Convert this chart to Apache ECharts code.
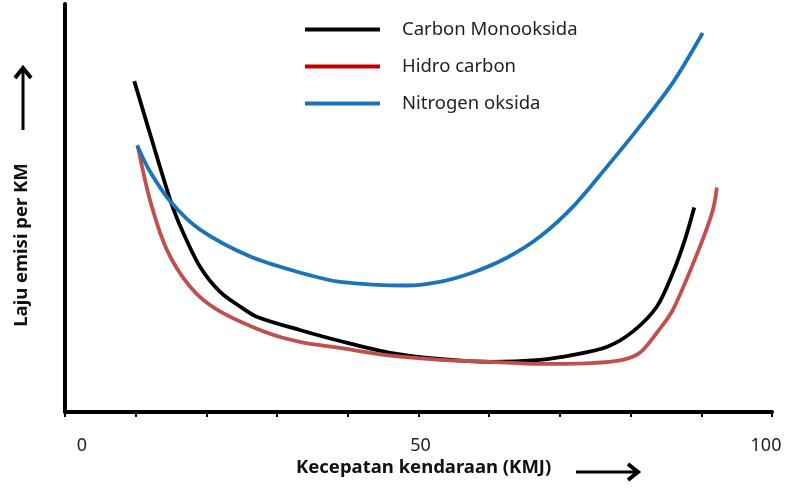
<!DOCTYPE html>
<html>
<head>
<meta charset="utf-8">
<script src="https://cdn.jsdelivr.net/npm/echarts@6/dist/echarts.min.js"></script>
<style>html,body{margin:0;padding:0;background:#fff}#c{width:800px;height:493px}</style>
</head>
<body>
<div id="c"></div>
<script>
// Data (x: speed km/h, y: relative emission rate 0-100)
var seriesNames = ['Carbon Monooksida', 'Hidro carbon', 'Nitrogen oksida'];
var xTickLabels = ['0', '50', '100'];
var coX = [9.8, 12.3, 15.0, 16.7, 19.1, 21.9, 24.8, 27.2, 33.2, 38.9, 46.0, 53.0, 60.1, 67.2, 71.9, 76.7, 80.3, 83.7, 86.0, 87.7, 89.0];
var coY = [81.1, 66.6, 51.4, 44.0, 35.6, 29.5, 25.8, 23.3, 20.1, 17.4, 14.5, 13.0, 12.3, 12.8, 14.0, 16.0, 19.7, 25.8, 34.2, 42.3, 50.1];
var hcX = [10.3, 12.0, 14.4, 17.7, 21.5, 28.6, 33.2, 38.9, 46.0, 53.0, 60.1, 67.2, 74.3, 78.9, 81.3, 83.7, 86.0, 89.8, 91.65, 92.2];
var hcY = [65.1, 52.1, 39.8, 30.7, 25.1, 19.4, 17.2, 15.7, 13.8, 12.8, 12.3, 11.8, 12.0, 12.8, 14.5, 19.4, 25.1, 40.5, 49.6, 55.0];
var noX = [10.2, 12.0, 15.0, 19.1, 26.2, 33.2, 38.9, 48.4, 53.0, 57.7, 62.5, 67.2, 71.9, 76.7, 81.3, 86.0, 90.2];
var noY = [65.4, 59.0, 51.4, 44.7, 38.1, 34.2, 31.9, 31.0, 31.9, 34.2, 37.8, 43.0, 50.4, 60.2, 70.0, 80.8, 92.9];

function pairs(xs, ys) { return xs.map(function (x, i) { return [x, ys[i]]; }); }

var lineColors = ['#000000', '#c0504d', '#1a74bb'];
var legendColors = ['#000000', '#c00000', '#1a74bb'];
var font = 'Noto Sans';

var chart = echarts.init(document.getElementById('c'), null, {renderer: 'canvas'});
chart.setOption({
  animation: false,
  backgroundColor: '#ffffff',
  grid: {left: 65, right: 28, top: 4, bottom: 81, containLabel: false},
  legend: {
    orient: 'vertical',
    left: 300, top: 14,
    icon: 'rect',
    itemWidth: 75, itemHeight: 4,
    itemGap: 16,
    textStyle: {fontFamily: font, fontSize: 18.5, color: '#222', padding: [0, 0, 0, 17], lineHeight: 21},
    data: seriesNames.map(function (n, i) { return {name: n, itemStyle: {color: legendColors[i]}}; })
  },
  xAxis: {
    type: 'value', min: 0, max: 100, interval: 10,
    axisLine: {show: true, lineStyle: {color: '#000', width: 4}},
    axisTick: {show: true, length: 5, lineStyle: {color: '#000', width: 2}},
    splitLine: {show: false},
    axisLabel: {
      margin: 25,
      fontFamily: font, fontSize: 18, color: '#222',
      formatter: function (v) {
        if (v === 0) return '{a|' + xTickLabels[0] + '}';
        if (v === 50) return '{b|' + xTickLabels[1] + '}';
        if (v === 100) return '{c|' + xTickLabels[2] + '}';
        return '';
      },
      rich: {
        a: {fontFamily: font, fontSize: 18, color: '#222', padding: [0, 0, 0, 34]},
        b: {fontFamily: font, fontSize: 18, color: '#222', padding: [0, 0, 0, 4]},
        c: {fontFamily: font, fontSize: 18, color: '#222', padding: [0, 12, 0, 0]}
      }
    }
  },
  yAxis: {
    type: 'value', min: 0, max: 100,
    axisLine: {show: true, lineStyle: {color: '#000', width: 4}},
    axisTick: {show: false},
    axisLabel: {show: false},
    splitLine: {show: false}
  },
  series: [
    {name: seriesNames[0], type: 'line', data: pairs(coX, coY), smooth: 0.3, symbol: 'none', lineStyle: {width: 3.8, color: lineColors[0]}, itemStyle: {color: lineColors[0]}},
    {name: seriesNames[1], type: 'line', data: pairs(hcX, hcY), smooth: 0.3, symbol: 'none', lineStyle: {width: 3.8, color: lineColors[1]}, itemStyle: {color: lineColors[1]}},
    {name: seriesNames[2], type: 'line', data: pairs(noX, noY), smooth: 0.3, symbol: 'none', lineStyle: {width: 3.8, color: lineColors[2]}, itemStyle: {color: lineColors[2]}}
  ],
  graphic: [
    {type: 'text', left: 296, top: 458, style: {text: 'Kecepatan kendaraan (KMJ)', fontFamily: font, fontSize: 18.5, fontWeight: 'bold', fill: '#111'}},
    {type: 'text', x: 22, y: 245, rotation: Math.PI / 2, style: {text: 'Laju emisi per KM', fontFamily: font, fontSize: 18.5, fontWeight: 'bold', fill: '#111', align: 'center', verticalAlign: 'middle'}},
    {type: 'line', shape: {x1: 576, y1: 472, x2: 637, y2: 472}, style: {stroke: '#000', lineWidth: 3}},
    {type: 'polyline', shape: {points: [[628, 464], [638, 472], [628, 480]]}, style: {stroke: '#000', lineWidth: 4, fill: null}},
    {type: 'line', shape: {x1: 23, y1: 130, x2: 23, y2: 69}, style: {stroke: '#000', lineWidth: 3}},
    {type: 'polyline', shape: {points: [[15, 78], [23, 68], [31, 78]]}, style: {stroke: '#000', lineWidth: 4, fill: null}}
  ]
});
</script>
</body>
</html>
